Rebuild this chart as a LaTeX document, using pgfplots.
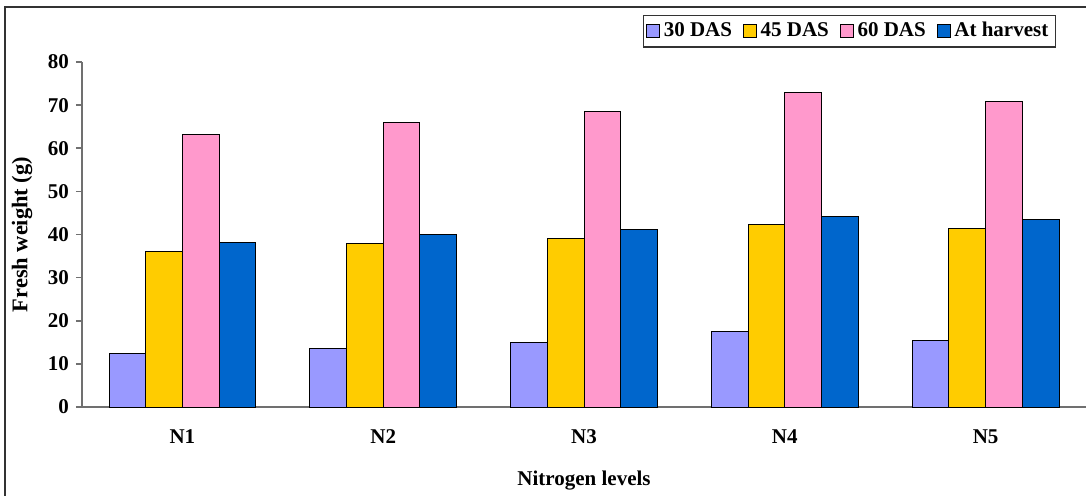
\documentclass[border=0pt]{standalone}
\usepackage{pgfplots}
\pgfplotsset{compat=1.18}
\usepackage{fontspec}
\setmainfont{Liberation Serif}
\definecolor{c30}{HTML}{9999FF}
\definecolor{c45}{HTML}{FFCC00}
\definecolor{c60}{HTML}{FF99CC}
\definecolor{cha}{HTML}{0066CC}
\definecolor{axgray}{HTML}{707070}
\begin{document}
\begin{tikzpicture}
\useasboundingbox (0,0) rectangle (543pt,247.5pt);
\draw[line width=1pt, color=black!80] (2.3pt,-2pt) -- (2.3pt,244pt) -- (546pt,244pt);
\begin{axis}[
  at={(41pt,44pt)}, anchor=south west,
  scale only axis, width=502pt, height=172.5pt,
  font=\fontsize{10.5}{12}\selectfont\bfseries,
  /pgf/number format/assume math mode=true,
  ybar=0pt, bar width=18.35pt,
  xmin=0.5, xmax=5.5, ymin=0, ymax=80,
  axis x line=bottom, axis y line=left,
  axis line style={-, color=axgray, line width=0.8pt},
  xtick={1,2,3,4,5}, xticklabels={N1,N2,N3,N4,N5},
  x tick style={draw=none},
  xticklabel style={yshift=-5pt},
  extra x ticks={0.5,1.5,2.5,3.5,4.5},
  extra x tick labels={},
  extra x tick style={tick align=outside, major tick length=3.5pt,
     tick style={draw=axgray, line width=0.8pt}},
  ytick={0,10,...,80},
  y tick style={color=axgray, line width=0.8pt},
  tick align=outside, major tick length=3pt,
  xlabel={Nitrogen levels},
  ylabel={Fresh weight (g)},
  xlabel style={at={(axis description cs:0.5,-0.2145)}, anchor=center},
  ylabel style={at={(axis description cs:-0.0598,0.5)}, anchor=center, rotate=0,
     font=\fontsize{11.2}{13}\selectfont\bfseries},
  legend columns=4,
  legend style={at={(axis description cs:0.970,1.137)}, anchor=north east,
     draw=black!80, line width=0.6pt, inner sep=1.5pt,
     /tikz/every even column/.append style={column sep=3.5pt},
     font=\fontsize{10.5}{12}\selectfont\bfseries},
  legend image code/.code={\draw[#1, line width=0.4pt] (0pt,-3.2pt) rectangle (6.4pt,3.2pt);},
  every axis plot/.append style={draw=black, line width=0.5pt},
]
\addplot[fill=c30] coordinates {(1,12.3) (2,13.6) (3,15.0) (4,17.4) (5,15.5)};
\addplot[fill=c45] coordinates {(1,36.0) (2,38.0) (3,39.0) (4,42.3) (5,41.5)};
\addplot[fill=c60] coordinates {(1,63.1) (2,65.9) (3,68.5) (4,73.0) (5,70.8)};
\addplot[fill=cha] coordinates {(1,38.1) (2,40.1) (3,41.1) (4,44.2) (5,43.4)};
\legend{30 DAS, 45 DAS, 60 DAS, At harvest}
\end{axis}
\end{tikzpicture}
\end{document}
